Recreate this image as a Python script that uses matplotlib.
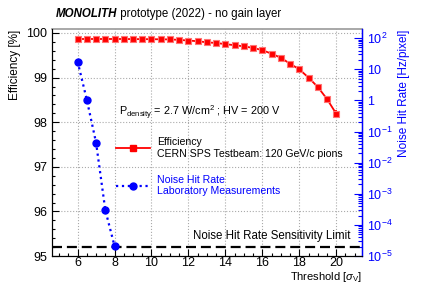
import numpy as np
import matplotlib
matplotlib.use("Agg")
import matplotlib.pyplot as plt
from matplotlib.lines import Line2D
from matplotlib.ticker import MultipleLocator, LogLocator, FuncFormatter, NullFormatter

plt.rcParams['font.family'] = ['Liberation Sans', 'DejaVu Sans']
plt.rcParams['mathtext.fontset'] = 'custom'
plt.rcParams['mathtext.rm'] = 'Liberation Sans'
plt.rcParams['mathtext.it'] = 'Liberation Sans:italic'

# === Data ===
threshold = np.arange(6.0, 20.01, 0.5)
efficiency = [99.865, 99.865, 99.865, 99.865, 99.865, 99.865, 99.862, 99.862,
              99.860, 99.858, 99.855, 99.845, 99.830, 99.815, 99.790, 99.775,
              99.750, 99.725, 99.700, 99.665, 99.615, 99.535, 99.445, 99.310,
              99.185, 99.000, 98.790, 98.520, 98.190]
eff_err = [0.01, 0.01, 0.01, 0.01, 0.01, 0.01, 0.01, 0.01, 0.01, 0.01,
           0.01, 0.01, 0.01, 0.01, 0.015, 0.015, 0.015, 0.02, 0.02, 0.02,
           0.025, 0.03, 0.03, 0.035, 0.04, 0.05, 0.06, 0.07, 0.09]

noise_thr = [6.0, 6.5, 7.0, 7.5, 8.0]
noise_rate = [17.7, 1.04, 0.044, 3.0e-4, 2.1e-5]

sensitivity_limit = 2.0e-5

# === Figure ===
fig = plt.figure(figsize=(4.27, 2.91), dpi=100)
ax = fig.add_axes([0.122, 0.120, 0.726, 0.779])

ax.errorbar(threshold, efficiency, yerr=eff_err, color='red', lw=1.3,
            marker='s', ms=5, mec=(1, 0.45, 0.45), mew=0.8, elinewidth=1.3,
            capsize=0, zorder=5)

ax.set_xlim(4.62, 21.4)
ax.set_ylim(95, 100.08)
ax.xaxis.set_major_locator(MultipleLocator(2))
ax.xaxis.set_minor_locator(MultipleLocator(0.5))
ax.yaxis.set_major_locator(MultipleLocator(1))
ax.yaxis.set_minor_locator(MultipleLocator(0.2))
ax.tick_params(axis='both', which='major', direction='in', length=5, labelsize=9, width=0.8)
ax.tick_params(axis='x', which='major', pad=1)
ax.tick_params(axis='both', which='minor', direction='in', length=2.5, width=0.8)
ax.tick_params(axis='x', top=False, which='both')
ax.grid(True, which='major', ls=':', color='#aaaaaa', lw=0.8)
ax.spines['top'].set_color('#999999')
ax.spines['top'].set_linewidth(1.2)
ax.set_ylabel('Efficiency [%]', fontsize=8.5, loc='top')
ax.set_xlabel(r'Threshold [$\sigma_{\rm V}$]', fontsize=8, ha='right', va='center')
ax.xaxis.set_label_coords(1.0, -0.092)

# === Right axis: noise hit rate ===
ax2 = ax.twinx()
ax2.set_yscale('log')
ax2.set_ylim(1e-5, 10 ** 2.28)
ax2.plot(noise_thr, noise_rate, color='blue', ls=':', lw=1.6, marker='o', ms=5, zorder=5)
ax2.axhline(sensitivity_limit, color='black', lw=1.6, dashes=(4.5, 2.2))

def log_fmt(v, pos):
    e = int(round(np.log10(v)))
    if e == 0:
        return '1'
    if e == 1:
        return '10'
    return r'$10^{%d}$' % e

ax2.yaxis.set_major_locator(LogLocator(base=10, numticks=20))
ax2.yaxis.set_minor_locator(LogLocator(base=10, subs=np.arange(2, 10), numticks=20))
ax2.yaxis.set_major_formatter(FuncFormatter(log_fmt))
ax2.yaxis.set_minor_formatter(NullFormatter())
ax2.tick_params(axis='y', which='major', direction='in', length=6, width=0.8,
                colors='blue', labelsize=9)
ax2.tick_params(axis='y', which='minor', direction='in', length=3, width=0.8, colors='blue')
ax2.spines['right'].set_color('blue')
ax2.spines['right'].set_linewidth(1.0)
ax2.spines['top'].set_visible(False)
ax2.set_ylabel('Noise Hit Rate [Hz/pixel]', fontsize=8.5, color='blue', loc='top')

# === Texts ===
ax.text(0.216, 0.631, r'P$_{\rm density}$ = 2.7 W/cm$^{2}$ ; HV = 200 V',
        transform=ax.transAxes, fontsize=7.8, ha='left', va='center')
ax.text(0.961, 0.088, 'Noise Hit Rate Sensitivity Limit', transform=ax.transAxes,
        fontsize=8.3, ha='right', va='center')

t1 = fig.text(0.131, 0.952, 'MONOLITH', fontsize=8.3, fontweight='bold',
              fontstyle='italic', ha='left', va='center')
ax.annotate(' prototype (2022) - no gain layer', xy=(1, 0), xycoords=t1,
            fontsize=8.3, ha='left', va='bottom', annotation_clip=False)

# === Legend ===
handles = [
    Line2D([], [], color='red', lw=1.3, marker='s', ms=5),
    Line2D([], [], color='blue', ls=':', lw=1.6, marker='o', ms=5),
]
labels = ['Efficiency\nCERN SPS Testbeam: 120 GeV/c pions',
          'Noise Hit Rate\nLaboratory Measurements']
leg = ax2.legend(handles, labels, loc='upper left', bbox_to_anchor=(0.207, 0.525),
                 frameon=False, fontsize=7.6, handlelength=3.2, handletextpad=0.7,
                 labelspacing=1.5, borderpad=0, borderaxespad=0)
leg.get_texts()[1].set_color('blue')

fig.savefig('out.png', dpi=100)
